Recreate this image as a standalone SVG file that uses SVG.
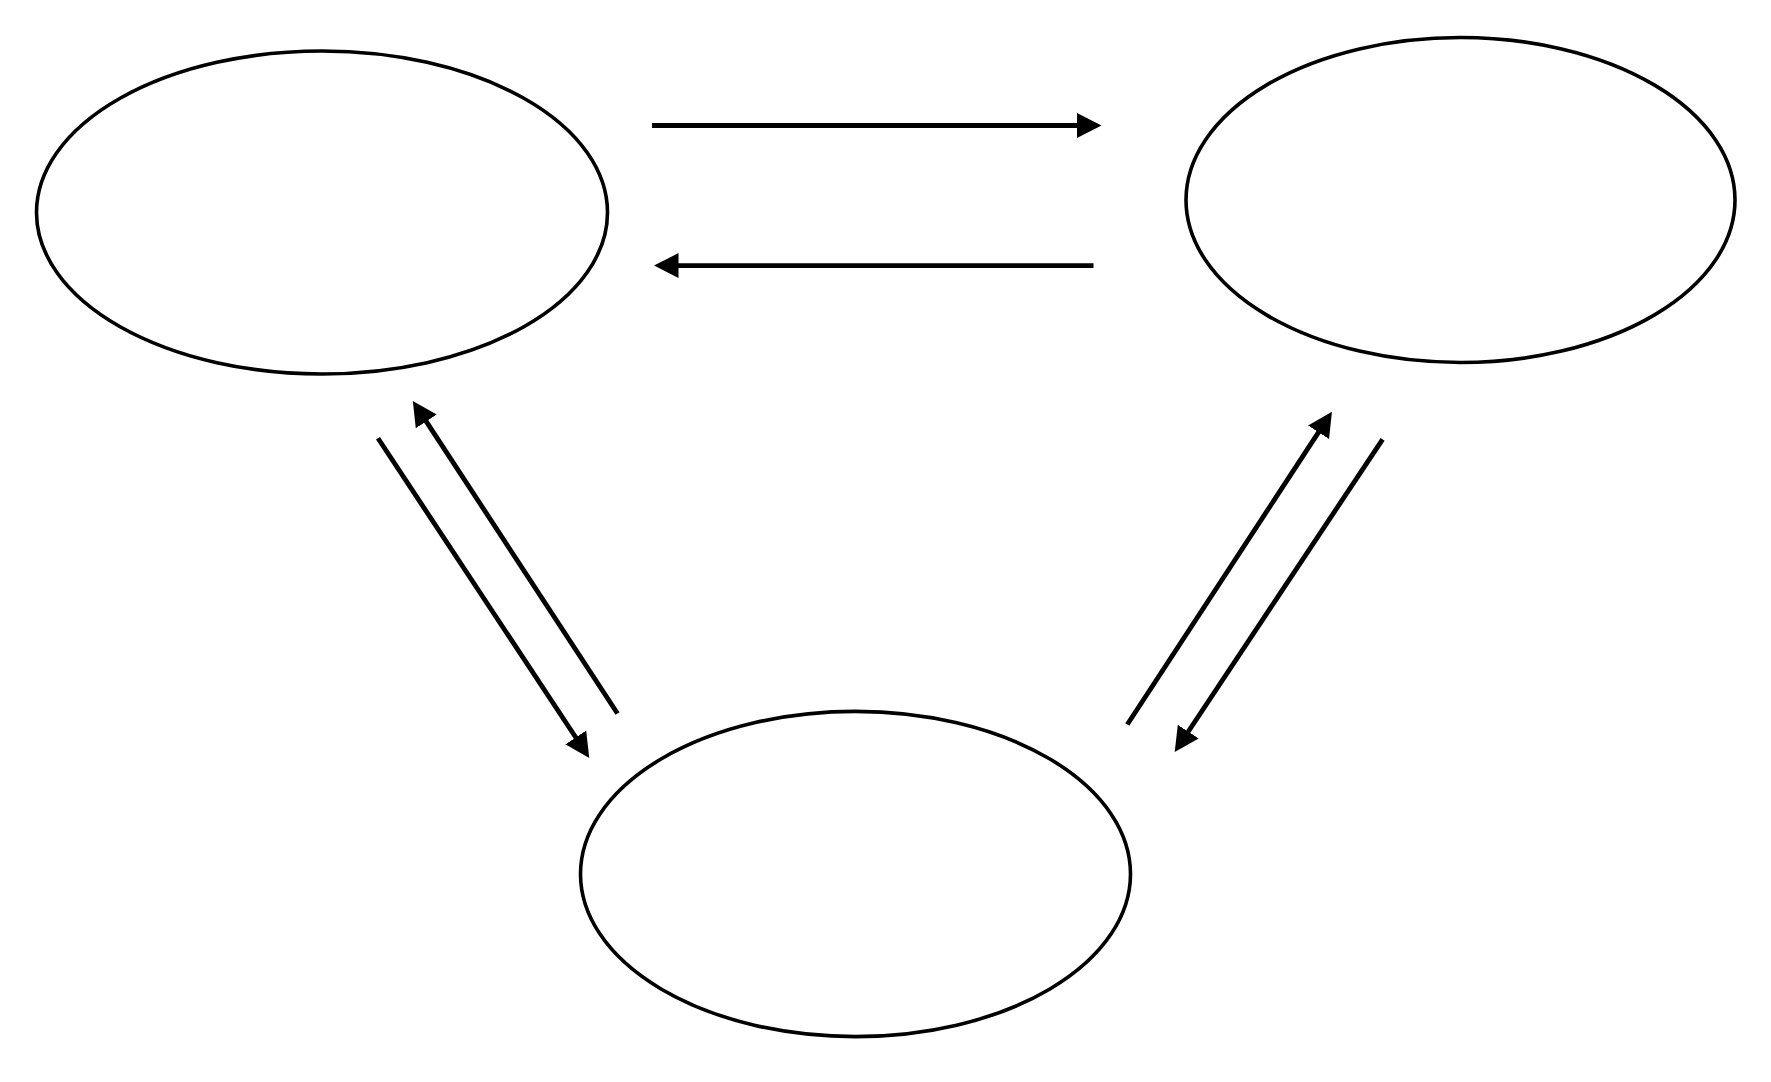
<svg xmlns="http://www.w3.org/2000/svg" width="1771" height="1082" viewBox="0 0 1771 1082">
<style>
.node{fill:#ffffff;stroke:#000000;stroke-width:3.6}
.edge{fill:none;stroke:#000000;stroke-width:4.8;stroke-linecap:butt}
</style>
<defs>
<marker id="ah" markerUnits="userSpaceOnUse" viewBox="0 0 25 26" markerWidth="25" markerHeight="26" refX="1" refY="13" orient="auto">
<path d="M0,0.5 L24.5,13 L0,25.5 Z" fill="#000000"/>
</marker>
</defs>
<rect x="0" y="0" width="1771" height="1082" fill="#ffffff"/>
<g id="node-left"><ellipse class="node" cx="322" cy="212.5" rx="285.5" ry="161.5"/></g>
<g id="node-right"><ellipse class="node" cx="1460.5" cy="200" rx="274.5" ry="162.5"/></g>
<g id="node-bottom"><ellipse class="node" cx="855.5" cy="874" rx="275" ry="162.6"/></g>
<g id="connectors">
<line class="edge" x1="652" y1="125.5" x2="1078" y2="125.5" marker-end="url(#ah)"/>
<line class="edge" x1="1093.5" y1="265.6" x2="677.5" y2="265.6" marker-end="url(#ah)"/>
<line class="edge" x1="378" y1="438.3" x2="576.3" y2="738.3" marker-end="url(#ah)"/>
<line class="edge" x1="617.5" y1="713.5" x2="425.7" y2="420.6" marker-end="url(#ah)"/>
<line class="edge" x1="1127.3" y1="724.5" x2="1319.1" y2="431.4" marker-end="url(#ah)"/>
<line class="edge" x1="1382.6" y1="439.3" x2="1187.7" y2="732.5" marker-end="url(#ah)"/>
</g>
</svg>
